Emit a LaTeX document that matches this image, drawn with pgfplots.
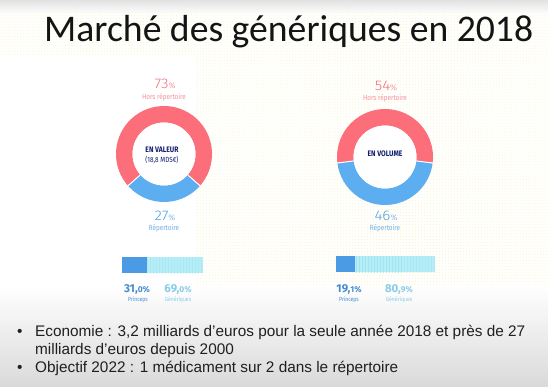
\documentclass[border=0pt]{standalone}
\usepackage{pgfplots}
\pgfplotsset{compat=1.18}
\usepackage{fontspec}
\setmainfont{Liberation Sans}
\newfontfamily\titlefont{Carlito}
\newfontfamily\cond[FakeStretch=0.85]{Fira Sans}
\newfontfamily\pctfont[FakeStretch=1.1]{Fira Sans Light}
\newfontfamily\fira{Fira Sans}
\usetikzlibrary{patterns}
\definecolor{cRed}{RGB}{252,110,122}
\definecolor{cBlue}{RGB}{92,174,240}
\definecolor{cNavy}{RGB}{20,30,110}
\definecolor{cRedT}{RGB}{242,110,122}
\definecolor{cRedS}{RGB}{246,145,155}
\definecolor{cBlueT}{RGB}{80,160,228}
\definecolor{cBlueS}{RGB}{110,175,230}
\definecolor{cDark}{RGB}{75,155,228}
\definecolor{cLight}{RGB}{182,238,247}
\definecolor{cStripe}{RGB}{150,222,238}
\definecolor{cPT}{RGB}{70,140,210}
\definecolor{cGT}{RGB}{135,204,234}
\definecolor{cYel}{RGB}{250,246,185}
% values
\def\vA{73}\def\vB{54}
\pgfmathsetmacro\aAs{270-1.8*(100-\vA)}
\pgfmathsetmacro\aAe{270+1.8*(100-\vA)}
\pgfmathsetmacro\aAz{\aAs+360}
\pgfmathsetmacro\aBs{270-1.8*(100-\vB)}
\pgfmathsetmacro\aBe{270+1.8*(100-\vB)}
\pgfmathsetmacro\aBz{\aBs+360}
\begin{document}
\begin{tikzpicture}[x=1bp,y=1bp,every node/.append style={inner sep=0pt}]
\path[use as bounding box] (0,0) rectangle (548,386);
\fill[white] (0,0) rectangle (548,386);
\fill[pattern=dots, pattern color=cYel] (195,90) rectangle (548,330);
\fill[pattern=dots, pattern color=cYel] (0,330) rectangle (548,386);
\shade[top color=white, bottom color=black!16, opacity=0.9] (0,0) rectangle (548,100);
\shade[top color=black!14, bottom color=white, opacity=0.8] (0,372) rectangle (548,386);
\begin{axis}[at={(0bp,0bp)},anchor=south west,width=548bp,height=386bp,scale only axis,
  xmin=0,xmax=548,ymin=0,ymax=386,hide axis,clip=false]
% donut 1
\draw[line width=16.5bp, cRed] (axis cs:164,232) ++(\aAe:39.75bp) arc[start angle=\aAe, end angle=\aAz, radius=39.75bp];
\draw[line width=16.5bp, cBlue] (axis cs:164,232) ++(\aAs:39.75bp) arc[start angle=\aAs, end angle=\aAe, radius=39.75bp];
\fill[white] (axis cs:164,232) circle[radius=31.5bp];
\draw[white, line width=1bp] (axis cs:164,232) ++(\aAs:31bp) -- ++(\aAs:17bp);
\draw[white, line width=1bp] (axis cs:164,232) ++(\aAe:31bp) -- ++(\aAe:17bp);
% donut 2
\draw[line width=16.5bp, cRed] (axis cs:385,229) ++(\aBe:39.75bp) arc[start angle=\aBe, end angle=\aBz, radius=39.75bp];
\draw[line width=16.5bp, cBlue] (axis cs:385,229) ++(\aBs:39.75bp) arc[start angle=\aBs, end angle=\aBe, radius=39.75bp];
\fill[white] (axis cs:385,229) circle[radius=31.5bp];
\draw[white, line width=1bp] (axis cs:385,229) ++(\aBs:31bp) -- ++(\aBs:17bp);
\draw[white, line width=1bp] (axis cs:385,229) ++(\aBe:31bp) -- ++(\aBe:17bp);
% donut labels
\node[text=cRedT, font=\pctfont\fontsize{14}{14}\selectfont] at (axis cs:165,302) {73{\fontsize{8}{8}\selectfont\%}};
\node[text=cRedS, font=\cond\fontsize{7.5}{7.5}\selectfont] at (axis cs:164,289) {Hors répertoire};
\node[text=cBlueT, font=\pctfont\fontsize{14}{14}\selectfont] at (axis cs:165,170) {27{\fontsize{8}{8}\selectfont\%}};
\node[text=cBlueS, font=\cond\fontsize{7.5}{7.5}\selectfont] at (axis cs:164,157.5) {Répertoire};
\node[text=cRedT, font=\pctfont\fontsize{14}{14}\selectfont] at (axis cs:386,300) {54{\fontsize{8}{8}\selectfont\%}};
\node[text=cRedS, font=\cond\fontsize{7.5}{7.5}\selectfont] at (axis cs:385,287.5) {Hors répertoire};
\node[text=cBlueT, font=\pctfont\fontsize{14}{14}\selectfont] at (axis cs:386,170) {46{\fontsize{8}{8}\selectfont\%}};
\node[text=cBlueS, font=\cond\fontsize{7.5}{7.5}\selectfont] at (axis cs:385,157.5) {Répertoire};
\node[text=cNavy, font=\cond\bfseries\fontsize{8}{8}\selectfont] at (axis cs:162,236) {EN VALEUR};
\node[text=cNavy, font=\cond\fontsize{7.5}{7.5}\selectfont] at (axis cs:162,226) {(18,8 MDS€)};
\node[text=cNavy, font=\cond\bfseries\fontsize{8}{8}\selectfont] at (axis cs:385,232) {EN VOLUME};
% bar labels
\node[text=cPT, font=\fira\bfseries\fontsize{11.5}{11.5}\selectfont] at (axis cs:137,96) {31,{\fontsize{8.5}{8.5}\selectfont0\%}};
\node[text=cPT, font=\cond\fontsize{6}{6}\selectfont] at (axis cs:138,86.5) {Princeps};
\node[text=cGT, font=\fira\bfseries\fontsize{11.5}{11.5}\selectfont] at (axis cs:178,96) {69,{\fontsize{8.5}{8.5}\selectfont0\%}};
\node[text=cGT, font=\cond\fontsize{6}{6}\selectfont] at (axis cs:178,86.5) {Génériques};
\node[text=cPT, font=\fira\bfseries\fontsize{11.5}{11.5}\selectfont] at (axis cs:349,96) {19,{\fontsize{8.5}{8.5}\selectfont1\%}};
\node[text=cPT, font=\cond\fontsize{6}{6}\selectfont] at (axis cs:349,86.5) {Princeps};
\node[text=cGT, font=\fira\bfseries\fontsize{11.5}{11.5}\selectfont] at (axis cs:399,96) {80,{\fontsize{8.5}{8.5}\selectfont9\%}};
\node[text=cGT, font=\cond\fontsize{6}{6}\selectfont] at (axis cs:399,86.5) {Génériques};
% title
\node[anchor=base west, font=\titlefont\fontsize{37.8}{37.8}\selectfont, text=black!92] at (axis cs:44,344) {Marché des génériques en 2018};
% bullets
\node[anchor=base west, font=\fontsize{15.4}{15.4}\selectfont, text=black!88] at (axis cs:17,50) {•};
\node[anchor=base west, font=\fontsize{15.4}{15.4}\selectfont, text=black!88] at (axis cs:35,50) {Economie : 3,2 milliards d’euros pour la seule année 2018 et près de 27};
\node[anchor=base west, font=\fontsize{15.4}{15.4}\selectfont, text=black!88] at (axis cs:35,32) {milliards d’euros depuis 2000};
\node[anchor=base west, font=\fontsize{15.4}{15.4}\selectfont, text=black!88] at (axis cs:17,14) {•};
\node[anchor=base west, font=\fontsize{15.4}{15.4}\selectfont, text=black!88] at (axis cs:35,14) {Objectif 2022 : 1 médicament sur 2 dans le répertoire};
\end{axis}
% bar 1
\begin{axis}[at={(122bp,113bp)},anchor=south west,width=81bp,height=16bp,scale only axis,
  xbar stacked, bar width=16bp, xmin=0,xmax=100,ymin=0.5,ymax=1.5,hide axis]
\addplot[fill=cDark, draw=none] coordinates {(31.0,1)};
\addplot[fill=cLight, draw=none, postaction={pattern=vertical lines, pattern color=cStripe}] coordinates {(69.0,1)};
\end{axis}
% bar 2
\begin{axis}[at={(336bp,114bp)},anchor=south west,width=99bp,height=16bp,scale only axis,
  xbar stacked, bar width=16bp, xmin=0,xmax=100,ymin=0.5,ymax=1.5,hide axis]
\addplot[fill=cDark, draw=none] coordinates {(19.1,1)};
\addplot[fill=cLight, draw=none, postaction={pattern=vertical lines, pattern color=cStripe}] coordinates {(80.9,1)};
\end{axis}
\end{tikzpicture}
\end{document}
